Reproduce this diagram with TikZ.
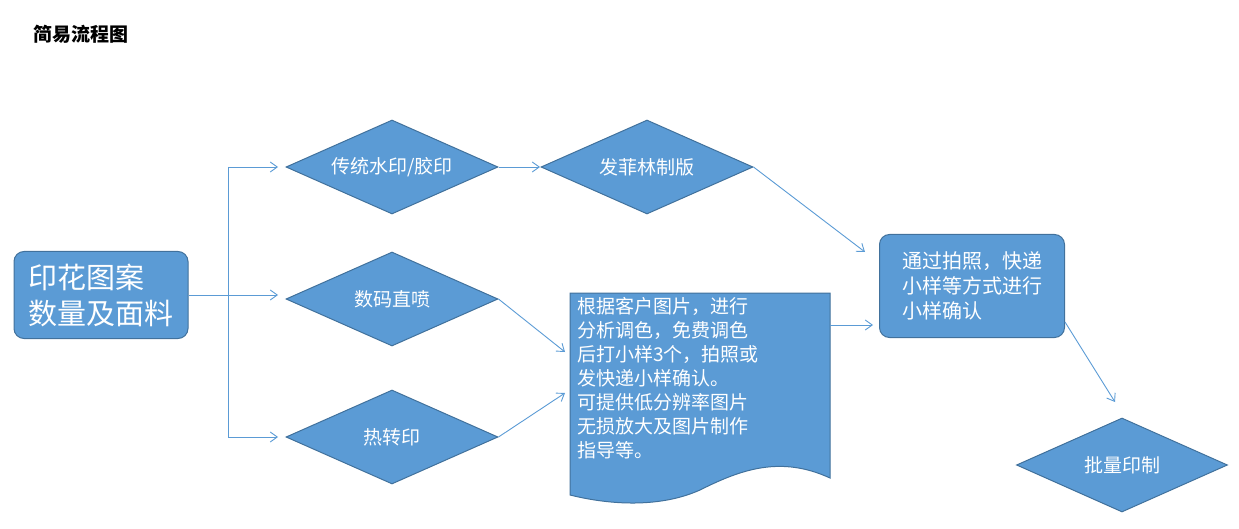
\documentclass[tikz,border=0pt]{standalone}
\usepackage{fontspec}
\setmainfont{Noto Sans CJK SC}
\usetikzlibrary{shapes.geometric,arrows.meta}
\tikzset{
 x=1pt,y=-1pt,
 fillc/.style={fill=fc,draw=bc,line width=1pt},
 dia/.style={fillc,diamond,aspect=2.25,minimum width=212pt,minimum height=94pt,inner sep=0pt,text=white,font=\fontsize{19}{22}\selectfont},
 rbox/.style={fillc,rounded corners=10pt,text=white,align=left},
 conn/.style={draw=lc,line width=0.9pt,-{Straight Barb[length=7pt,width=10pt]}}
}
\definecolor{fc}{HTML}{5B9BD5}
\definecolor{bc}{HTML}{41719C}
\definecolor{lc}{HTML}{5B9BD5}
\begin{document}
\begin{tikzpicture}
\useasboundingbox (0,0) rectangle (1239,529);
\node[anchor=west,font=\bfseries\fontsize{19}{22}\selectfont] (title) at (30,34) {简易流程图};
\node[rbox,minimum width=174pt,minimum height=87pt,font=\fontsize{29}{36}\selectfont,inner sep=4pt] (src) at (101,295) {印花图案\\数量及面料};
\node[dia] (d1) at (392,167) {传统水印/胶印};
\node[dia] (d2) at (647,167) {发菲林制版};
\node[dia] (d3) at (392,299) {数码直喷};
\node[dia] (d4) at (392,437) {热转印};
\node[rbox,minimum width=185pt,minimum height=103pt,font=\fontsize{20}{25}\selectfont,inner sep=6pt] (conf) at (972,286) {通过拍照，快递\\小样等方式进行\\小样确认};
\node[dia,minimum width=211pt] (mass) at (1122,465) {批量印制};
% document shape
\coordinate (docL) at (570,325);
\coordinate (docR) at (830,325);
\fill[fillc] (570,293) -- (830,293) -- (830,478) .. controls (780,455) and (740,470) .. (700,490) .. controls (660,508) and (610,505) .. (570,495) -- cycle;
\node[anchor=north west,text=white,align=left,font=\fontsize{19}{24}\selectfont,inner sep=0pt] (doctxt) at (577,297) {根据客户图片，进行\\分析调色，免费调色\\后打小样3个，拍照或\\发快递小样确认。\\可提供低分辨率图片\\无损放大及图片制作\\指导等。};
\coordinate (br) at (228,295);
\coordinate (d3t) at (565,352);
\coordinate (d4t) at (565,393);
\coordinate (conft) at (865,252);
\coordinate (massT) at (1115,402);
\draw[conn] (src.east) -- (278,295);
\draw[draw=lc,line width=0.9pt] (228,167) -- (228,437);
\draw[conn] (228,167) -- (278,167);
\draw[conn] (228,437) -- (278,437);
\draw[conn] (d1.east) -- (540,167);
\draw[conn] (d2.east) -- (conft);
\draw[conn] (d3.east) -- (d3t);
\draw[conn] (d4.east) -- (d4t);
\draw[conn] (docR) -- (873,325);
\draw[conn] (1065,322) -- (massT);
\end{tikzpicture}
\end{document}
